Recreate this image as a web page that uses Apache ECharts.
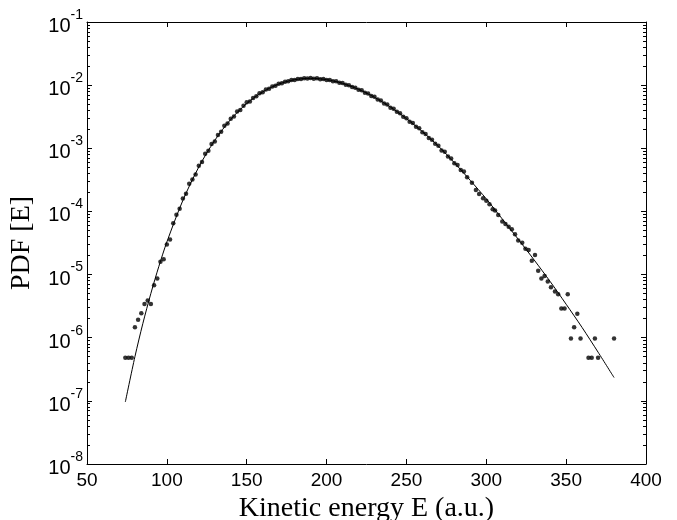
<!DOCTYPE html>
<html>
<head>
<meta charset="utf-8">
<script src="https://cdn.jsdelivr.net/npm/echarts@6/dist/echarts.min.js"></script>
<style>
html, body { margin: 0; padding: 0; background: #fff; }
#main { width: 677px; height: 520px; }
</style>
</head>
<body>
<div id="main"></div>
<script>
// histogram points (kinetic energy bins, a.u.)
var dotE = [74, 76, 78, 80, 82, 84, 86, 88, 90, 92, 94, 96, 98, 100, 102, 104,
	106, 108, 110, 112, 114, 116, 118, 120, 122, 124, 126, 128, 130, 132, 134, 136, 138, 140,
	142, 144, 146, 148, 150, 152, 154, 156, 158, 160, 162, 164, 166, 168, 170, 172, 174, 176,
	178, 180, 182, 184, 186, 188, 190, 192, 194, 196, 198, 200, 202, 204, 206, 208, 210, 212,
	214, 216, 218, 220, 222, 224, 226, 228, 230, 232, 234, 236, 238, 240, 242, 244, 246, 248,
	250, 252, 254, 256, 258, 260, 262, 264, 266, 268, 270, 272, 274, 276, 278, 280, 282, 284,
	286, 288,
	291, 293.5, 295.5, 298, 300, 302, 304, 305.5, 307.5, 310, 312, 314, 316, 318, 320, 322.5,
	324.5, 326.5, 328.5, 330.5, 332.5, 334.5, 336.5, 338.5, 340.5, 343, 345, 347, 349, 351,
	353, 355, 357, 359, 364, 366, 368, 370, 380];
var dotPdf = [4.8e-7, 4.8e-7, 4.8e-7, 1.46e-6, 1.93e-6, 2.43e-6, 3.42e-6, 3.9e-6, 3.42e-6, 6.8e-6,
	8.7e-6, 1.6e-5, 1.75e-5, 3.0e-5, 3.6e-5, 6.5e-5,
	8.85e-5, 1.10e-4, 1.60e-4, 1.90e-4, 2.75e-4, 3.20e-4, 3.86e-4, 5.28e-4, 6.04e-4, 8.20e-4,
	9.10e-4, 1.17e-3, 1.28e-3, 1.62e-3, 1.82e-3, 2.27e-3, 2.47e-3, 2.93e-3, 3.18e-3, 3.82e-3,
	4.05e-3, 4.73e-3, 5.36e-3, 5.51e-3, 6.24e-3, 6.64e-3, 7.43e-3, 7.73e-3, 8.51e-3, 8.73e-3,
	9.51e-3, 9.80e-3, 1.052e-2, 1.067e-2, 1.135e-2, 1.148e-2, 1.208e-2, 1.205e-2, 1.253e-2,
	1.247e-2, 1.288e-2, 1.271e-2, 1.300e-2, 1.268e-2, 1.285e-2, 1.245e-2, 1.256e-2, 1.211e-2,
	1.205e-2, 1.156e-2, 1.148e-2, 1.089e-2, 1.079e-2, 1.016e-2, 1.000e-2, 9.33e-3, 9.12e-3,
	8.49e-3, 8.30e-3, 7.60e-3, 7.36e-3, 6.71e-3, 6.52e-3, 5.93e-3, 5.71e-3, 5.13e-3, 4.92e-3,
	4.39e-3, 4.23e-3, 3.78e-3, 3.60e-3, 3.17e-3, 2.99e-3, 2.64e-3, 2.51e-3, 2.20e-3, 2.08e-3,
	1.80e-3, 1.68e-3, 1.46e-3, 1.37e-3, 1.18e-3, 1.10e-3, 9.25e-4, 8.83e-4, 7.43e-4, 6.92e-4,
	5.79e-4, 5.45e-4, 4.54e-4, 4.30e-4, 3.49e-4,
	2.85e-4, 2.18e-4, 1.89e-4, 1.61e-4, 1.48e-4, 1.30e-4, 1.08e-4, 1.03e-4, 8.8e-5, 6.9e-5,
	6.3e-5, 5.7e-5, 5.2e-5, 4.35e-5, 3.45e-5, 3.2e-5, 2.57e-5, 2.45e-5, 1.66e-5, 2.04e-5,
	1.15e-5, 8.7e-6, 9.5e-6, 7.8e-6, 6.3e-6, 5.4e-6, 4.9e-6, 2.9e-6, 2.9e-6, 4.9e-6,
	9.7e-7, 1.46e-6, 2.4e-6, 9.7e-7, 4.8e-7, 4.8e-7, 9.7e-7, 4.8e-7, 9.7e-7];

// fitted curve
var fitE = [74, 80, 85, 90, 95, 100, 110, 120, 130, 140, 150, 160, 170, 180, 190, 200, 210,
	220, 230, 240, 250, 260, 270, 280, 290, 300, 310, 320, 330, 340, 350, 360, 370, 380];
var fitPdf = [9.6e-8, 5.0e-7, 1.69e-6, 5.04e-6, 1.35e-5, 3.28e-5, 1.49e-4, 5.05e-4, 1.336e-3,
	2.865e-3, 5.12e-3, 7.81e-3, 1.038e-2, 1.219e-2, 1.282e-2, 1.223e-2, 1.067e-2, 8.59e-3,
	6.42e-3, 4.49e-3, 2.955e-3, 1.835e-3, 1.082e-3, 5.9e-4, 3.1e-4, 1.58e-4, 7.6e-5, 3.63e-5,
	1.7e-5, 7.76e-6, 3.39e-6, 1.45e-6, 5.9e-7, 2.34e-7];

// axis ticks
var yDecades = [1e-8, 1e-7, 1e-6, 1e-5, 1e-4, 1e-3, 1e-2, 1e-1];
var yMinor = [];
for (var d = 0; d < yDecades.length - 1; d++) {
	for (var m = 2; m <= 9; m++) {
		yMinor.push(m * yDecades[d]);
	}
}

var sans = 'Liberation Sans, Arial, Helvetica, sans-serif';
var serif = 'Liberation Serif, Times New Roman, serif';

function pairs(xs, ys) {
	return xs.map(function(x, i) {
		return [x, ys[i]];
	});
}

function xAxisCfg(pos, showLabel) {
	return {
		type : 'value',
		position : pos,
		min : 50,
		max : 400,
		interval : 50,
		axisLine : { show : true, lineStyle : { color : '#000', width : 1 } },
		axisTick : { show : true, inside : true, length : 5, lineStyle : { color : '#000' } },
		axisLabel : {
			show : showLabel,
			color : '#000',
			fontFamily : sans,
			fontSize : 19,
			margin : 7
		},
		splitLine : { show : false }
	};
}

function yAxisCfg(pos, ticks, len, showLine, showLabel) {
	return {
		type : 'log',
		logBase : 10,
		position : pos,
		min : 1e-8,
		max : 1e-1,
		axisLine : { show : showLine, lineStyle : { color : '#000', width : 1 } },
		axisTick : {
			show : true,
			inside : true,
			length : len,
			customValues : ticks,
			lineStyle : { color : '#000' }
		},
		axisLabel : {
			show : showLabel,
			customValues : yDecades,
			margin : 4,
			formatter : function(v) {
				return '{b|10}{s|' + Math.round(Math.log10(v)) + '}';
			},
			rich : {
				b : { fontFamily : sans, fontSize : 20, color : '#000', padding : [9, 0, 0, 0] },
				s : { fontFamily : sans, fontSize : 14, color : '#000', padding : [0, 0, 14, 0] }
			}
		},
		splitLine : { show : false }
	};
}

var myChart = echarts.init(document.getElementById('main'));

var xBottom = xAxisCfg('bottom', true);
xBottom.name = 'Kinetic energy E (a.u.)';
xBottom.nameLocation = 'middle';
xBottom.nameGap = 16;
xBottom.nameTextStyle = { fontFamily : serif, fontSize : 28, color : '#000' };

var yLeft = yAxisCfg('left', yDecades, 5, true, true);
yLeft.name = 'PDF [E]';
yLeft.nameLocation = 'middle';
yLeft.nameGap = 51;
yLeft.nameTextStyle = { fontFamily : serif, fontSize : 28, color : '#000' };

var option = {
	backgroundColor : '#FFFFFF',
	animation : false,
	grid : {
		left : 87,
		right : 31,
		top : 22,
		bottom : 56,
		outerBoundsMode : 'none'
	},
	xAxis : [xBottom, xAxisCfg('top', false)],
	yAxis : [
		yLeft,
		yAxisCfg('left', yMinor, 3, false, false),
		yAxisCfg('right', yDecades, 5, true, false),
		yAxisCfg('right', yMinor, 3, false, false)
	],
	series : [{
		type : 'line',
		data : pairs(fitE, fitPdf),
		smooth : 0.3,
		showSymbol : false,
		lineStyle : { color : '#000', width : 1 },
		z : 2
	}, {
		type : 'scatter',
		data : pairs(dotE, dotPdf),
		symbol : 'circle',
		symbolSize : 4.5,
		itemStyle : { color : '#000' },
		z : 3
	}]
};

myChart.setOption(option);
</script>
</body>
</html>
